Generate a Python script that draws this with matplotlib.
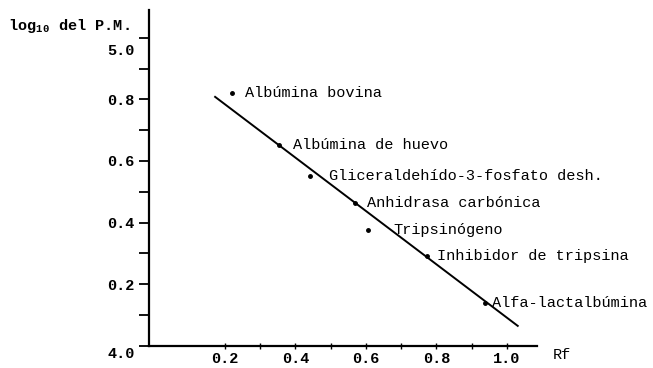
import matplotlib.pyplot as plt
from matplotlib import transforms

# proteinas patron: Rf frente a log10 del peso molecular
proteinas = ['Albúmina bovina', 'Albúmina de huevo', 'Gliceraldehído-3-fosfato desh.',
             'Anhidrasa carbónica', 'Tripsinógeno', 'Inhibidor de tripsina',
             'Alfa-lactalbúmina']
rf = [0.220, 0.353, 0.441, 0.569, 0.606, 0.773, 0.938]
log_pm = [4.821, 4.651, 4.550, 4.463, 4.375, 4.293, 4.140]

# recta de ajuste (extremos)
recta_rf = [0.172, 1.031]
recta_log = [4.808, 4.065]

x_ticks = [0.2, 0.4, 0.6, 0.8, 1.0]
y_ticks = [4.0, 4.1, 4.2, 4.3, 4.4, 4.5, 4.6, 4.7, 4.8, 4.9, 5.0]
y_labels = ['4.0', '', '0.2', '', '0.4', '', '0.6', '', '0.8', '', '5.0']

plt.rcParams['font.family'] = 'Liberation Mono'
plt.rcParams['font.size'] = 11
plt.rcParams['mathtext.fontset'] = 'custom'
plt.rcParams['mathtext.rm'] = 'Liberation Mono:bold'

fig = plt.figure(figsize=(6.53, 3.68), dpi=100)
ax = fig.add_axes([0.228, 0.060, 0.594, 0.913])

ax.plot(recta_rf, recta_log, color='black', linewidth=1.4)
ax.plot(rf, log_pm, 'o', color='black', markersize=2.5)

# separacion horizontal de cada etiqueta respecto a su punto (en puntos)
dx = [9, 10, 14, 9, 18, 7, 5]
for nombre, x, y, d in zip(proteinas, rf, log_pm, dx):
    ax.annotate(nombre, (x, y), xytext=(d, 0), textcoords='offset points',
                va='center', ha='left')

ax.set_xlim(-0.016, 1.085)
ax.set_ylim(4.0, 5.09)
ax.set_xticks(x_ticks)
ax.set_xticks([0.3, 0.5, 0.7, 0.9], minor=True)
ax.set_yticks(y_ticks)
ax.set_yticklabels(y_labels, fontweight='bold')
ax.set_xticklabels([f'{v:.1f}' for v in x_ticks], fontweight='bold')
ax.tick_params(axis='y', direction='out', length=7, width=1.3, pad=3)
ax.tick_params(axis='x', which='both', direction='inout', length=5, width=1.0, pad=2)

ax.spines['top'].set_visible(False)
ax.spines['right'].set_visible(False)
ax.spines['left'].set_linewidth(1.6)
ax.spines['bottom'].set_linewidth(1.6)

# 4.0 y 5.0 aparecen algo por debajo de su marca
bajada = {'5.0': -12 / 100, '4.0': -7 / 100}
for lbl in ax.get_yticklabels():
    if lbl.get_text() in bajada:
        desplaza = transforms.ScaledTranslation(0, bajada[lbl.get_text()], fig.dpi_scale_trans)
        lbl.set_transform(lbl.get_transform() + desplaza)

fig.text(8 / 653, 1 - 26 / 368, r'log$_{10}$ del P.M.', ha='left', va='center',
         fontweight='bold')
fig.text(553 / 653, 1 - 355 / 368, 'Rf', ha='left', va='center')

fig.savefig('out.png', dpi=100)
